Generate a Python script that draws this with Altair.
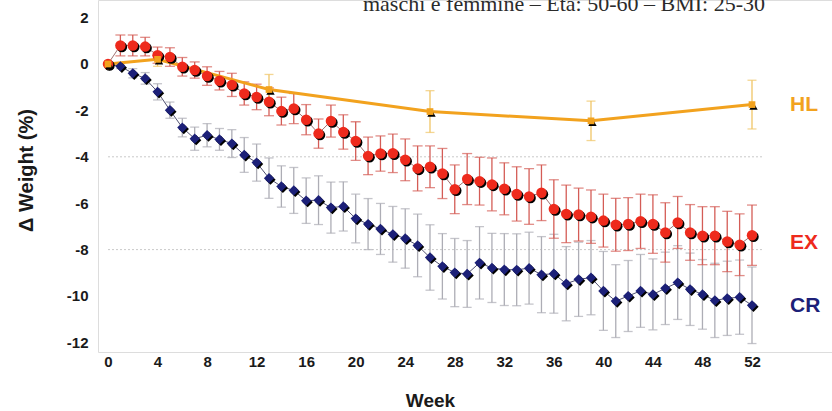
import altair as alt
import pandas as pd

# ---------------- data ----------------
weeks = list(range(53))
ex_mean = [0.0, 0.8, 0.8, 0.75, 0.38, 0.3, -0.12, -0.26, -0.52, -0.72,
           -0.9, -1.27, -1.42, -1.63, -2.03, -1.92, -2.4, -3.0, -2.46, -2.93,
           -3.32, -3.96, -3.86, -3.85, -4.13, -4.5, -4.43, -4.72, -5.4, -4.96,
           -5.05, -5.19, -5.38, -5.6, -5.71, -5.55, -6.25, -6.46, -6.49, -6.58,
           -6.75, -6.93, -6.9, -6.78, -6.9, -7.26, -6.83, -7.26, -7.4, -7.4,
           -7.65, -7.79, -7.38]
ex_err = [0.0, 0.45, 0.45, 0.4, 0.35, 0.4, 0.4, 0.35, 0.4, 0.4,
          0.5, 0.5, 0.55, 0.6, 0.6, 0.65, 0.65, 0.63, 0.69, 0.74,
          0.83, 0.81, 0.76, 0.83, 0.9, 0.97, 0.9, 1.08, 1.05, 1.1,
          1.03, 1.14, 1.12, 1.17, 1.2, 1.2, 1.26, 1.24, 1.14, 1.15,
          1.14, 1.14, 1.14, 1.17, 1.26, 1.28, 1.12, 1.2, 1.25, 1.25,
          1.3, 1.33, 1.3]
cr_mean = [0.0, -0.1, -0.4, -0.62, -1.2, -1.99, -2.74, -3.22, -3.07, -3.25,
           -3.43, -3.92, -4.25, -4.92, -5.28, -5.45, -5.89, -5.87, -6.19, -6.14,
           -6.66, -6.9, -7.11, -7.34, -7.52, -7.82, -8.34, -8.72, -8.99, -9.05,
           -8.57, -8.79, -8.86, -8.87, -8.8, -9.08, -9.04, -9.47, -9.28, -9.21,
           -9.78, -10.22, -10.0, -9.78, -9.93, -9.67, -9.42, -9.71, -9.93, -10.19,
           -10.1, -10.05, -10.4]
cr_err = [0.0, 0.1, 0.2, 0.25, 0.35, 0.35, 0.4, 0.5, 0.5, 0.47,
          0.6, 0.75, 0.8, 0.87, 0.89, 0.99, 0.98, 1.05, 1.1, 1.06,
          1.05, 1.1, 1.1, 1.2, 1.28, 1.35, 1.41, 1.41, 1.47, 1.44,
          1.56, 1.49, 1.55, 1.55, 1.55, 1.64, 1.7, 1.6, 1.6, 1.6,
          1.7, 1.57, 1.53, 1.57, 1.53, 1.56, 1.59, 1.56, 1.5, 1.6,
          1.6, 1.6, 1.65]
hl_weeks = [0, 4, 13, 26, 39, 52]
hl_mean = [0.0, 0.2, -1.1, -2.05, -2.45, -1.75]
hl_err = [0.0, 0.3, 0.65, 0.9, 0.85, 1.05]

series_names = ["HL", "EX", "CR"]
grid_values = [-4, -8]
y_ticks = [2, 0, -2, -4, -6, -8, -10, -12]
x_ticks = list(range(0, 53, 4))
title_text = "maschi e femmine \u2013 Et\u00e0: 50-60 \u2013 BMI: 25-30"

# ---------------- styles ----------------
C_EX = "#EE2A1C"
C_CR = "#1C2078"
C_HL = "#F2A21E"
C_EX_BAR = "#D45C56"
C_CR_BAR = "#ADADB5"
C_HL_BAR = "#F0C565"
FONT = "Liberation Sans"


def frame(w, m, e):
    df = pd.DataFrame({"week": w, "mean": m, "err": e})
    df["lo"] = df["mean"] - df["err"]
    df["hi"] = df["mean"] + df["err"]
    return df


ex = frame(weeks, ex_mean, ex_err)
cr = frame(weeks, cr_mean, cr_err)
hl = frame(hl_weeks, hl_mean, hl_err)

xscale = alt.Scale(domain=[-0.8074, 58.46], nice=False, zero=False)
yscale = alt.Scale(domain=[-12.4138, 2.7586], nice=False, zero=False)

xaxis = alt.Axis(values=x_ticks, title="Week", grid=False, ticks=False, domain=False,
                 labelFont=FONT, labelFontWeight="bold", labelFontSize=15, labelColor="#1a1a1a",
                 labelPadding=2, labelFlush=False,
                 titleFont=FONT, titleFontWeight="bold", titleFontSize=19, titleColor="#1a1a1a",
                 titleX=332, titleY=48, titleBaseline="middle", titleAlign="center")
yaxis = alt.Axis(values=y_ticks, title="\u0394 Weight (%)", grid=False, ticks=False, domain=False,
                 labelExpr="'' + datum.value",
                 labelFont=FONT, labelFontWeight="bold", labelFontSize=15, labelColor="#1a1a1a",
                 labelPadding=10, labelFlush=False,
                 titleFont=FONT, titleFontWeight="bold", titleFontSize=20, titleColor="#1a1a1a",
                 titleX=-72, titleY=170, titleAngle=-90, titleBaseline="middle", titleAlign="center")


def X(field="week"):
    return alt.X(f"{field}:Q", scale=xscale, axis=xaxis)


def Y(field="mean"):
    return alt.Y(f"{field}:Q", scale=yscale, axis=yaxis)


layers = []

# gridlines
grid = alt.Chart(pd.DataFrame({"g": grid_values})).mark_rule(
    color="#C9C9C9", strokeDash=[2, 2], strokeWidth=1
).encode(x=alt.datum(0, scale=xscale), x2=alt.datum(52.85), y=alt.Y("g:Q", scale=yscale, axis=yaxis))
layers.append(grid)


def bars(df, color, cap):
    base = alt.Chart(df)
    r = base.mark_rule(color=color, strokeWidth=1.3).encode(x=X(), y=Y("lo"), y2="hi:Q")
    t1 = base.mark_tick(color=color, orient="horizontal", size=cap, thickness=1.3).encode(x=X(), y=Y("lo"))
    t2 = base.mark_tick(color=color, orient="horizontal", size=cap, thickness=1.3).encode(x=X(), y=Y("hi"))
    return [r, t1, t2]


layers += bars(cr[cr.err > 0], C_CR_BAR, 9)
layers += bars(ex[ex.err > 0], C_EX_BAR, 10)
layers += bars(hl[hl.err > 0], C_HL_BAR, 9)

# lines
layers.append(alt.Chart(cr).mark_line(color="#505070", strokeWidth=1).encode(x=X(), y=Y()))
layers.append(alt.Chart(ex).mark_line(color="#A07070", strokeWidth=1).encode(x=X(), y=Y()))
layers.append(alt.Chart(hl).mark_line(color=C_HL, strokeWidth=3).encode(x=X(), y=Y()))

# markers with shadow
layers.append(alt.Chart(cr).mark_point(shape="diamond", filled=True, size=105, color="#000000",
                                       opacity=1, xOffset=1.5, yOffset=1.5).encode(x=X(), y=Y()))
layers.append(alt.Chart(cr).mark_point(shape="diamond", filled=True, size=105, color=C_CR,
                                       opacity=1).encode(x=X(), y=Y()))
layers.append(alt.Chart(ex).mark_point(shape="circle", filled=True, size=110, color="#000000",
                                       opacity=1, xOffset=1.5, yOffset=1.5).encode(x=X(), y=Y()))
layers.append(alt.Chart(ex).mark_point(shape="circle", filled=True, size=110, color=C_EX,
                                       opacity=1).encode(x=X(), y=Y()))
layers.append(alt.Chart(hl).mark_point(shape="triangle-up", filled=True, size=70, color="#000000",
                                       opacity=1, xOffset=1.5, yOffset=1.5).encode(x=X(), y=Y()))
layers.append(alt.Chart(hl).mark_point(shape="square", filled=True, size=45, color=C_HL,
                                       opacity=1).encode(x=X(), y=Y()))

# series labels (at last value of each series)
label_info = [
    (series_names[0], hl_weeks[-1], hl_mean[-1], C_HL, 0),
    (series_names[1], weeks[-1], ex_mean[-1], C_EX, 8),
    (series_names[2], weeks[-1], cr_mean[-1], C_CR, 1),
]
for name, w, v, col, dy in label_info:
    layers.append(
        alt.Chart(pd.DataFrame({"name": [name], "week": [w], "mean": [v]}))
        .mark_text(align="left", baseline="middle", dx=38, dy=dy, font=FONT,
                   fontWeight="bold", fontSize=21, color=col)
        .encode(x=X(), y=Y(), text="name:N")
    )

# partially cut slide heading at the top
layers.append(
    alt.Chart(pd.DataFrame({"t": [title_text]}))
    .mark_text(align="right", baseline="alphabetic", font="Liberation Serif",
               fontSize=22, color="#2b2b2b")
    .encode(x=alt.value(667), y=alt.value(11), text="t:N")
)

chart = alt.layer(*layers).properties(
    width=734,
    height=352,
    autosize=alt.AutoSizeParams(type="none"),
    padding={"left": 98, "top": 0, "right": 0, "bottom": 59},
).configure_view(stroke=None).configure(background="white")

chart.save("out.html", embed_options={"renderer": "svg", "actions": False})
